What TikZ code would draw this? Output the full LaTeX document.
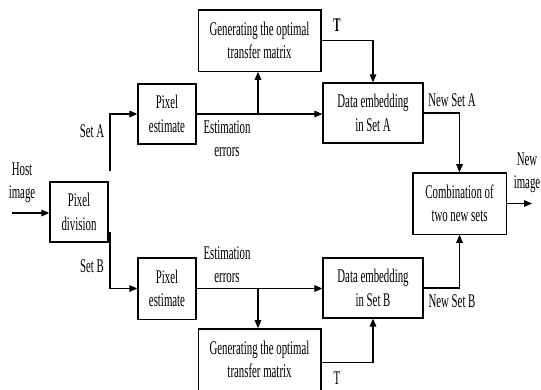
\documentclass[tikz,border=0pt]{standalone}
\usepackage{fontspec}
\setmainfont{Liberation Serif}[FakeStretch=0.56]
\usetikzlibrary{arrows.meta}
\begin{document}
\begin{tikzpicture}[x=0.75pt,y=-0.75pt,
  box/.style={draw, line width=1pt, inner sep=0pt, align=center,
    font=\fontsize{14.5}{17.5}\selectfont},
  lbl/.style={inner sep=0pt, align=center, font=\fontsize{14.5}{17}\selectfont},
  conn/.style={line width=0.8pt},
  arr/.style={conn, -{Triangle[length=6pt,width=5pt]}}]
\useasboundingbox (0,0) rectangle (541,389);
% boxes
\node[box, minimum width=92pt, minimum height=46pt] (genA) at (259.5,40.5) {Generating the optimal\\transfer matrix};
\node[box, minimum width=43.5pt, minimum height=45pt] (peA) at (167,114) {Pixel\\estimate};
\node[box, minimum width=75pt, minimum height=45pt] (deA) at (373,113) {Data embedding\\in Set A};
\node[box, minimum width=43.5pt, minimum height=45pt] (pd) at (79,212) {Pixel\\division};
\node[box, minimum width=70pt, minimum height=46pt] (comb) at (459.5,203.5) {Combination of\\two new sets};
\node[box, minimum width=43.5pt, minimum height=46pt] (peB) at (167,288.5) {Pixel\\estimate};
\node[box, minimum width=75pt, minimum height=45pt] (deB) at (373,288) {Data embedding\\in Set B};
\node[box, minimum width=92pt, minimum height=46pt] (genB) at (259.5,359.5) {Generating the optimal\\transfer matrix};
% labels
\node[lbl] (host) at (22,183) {Host\\image};
\node[lbl] (setA) at (92,131) {Set A};
\node[lbl] (setB) at (92,266) {Set B};
\node[lbl] (eeA) at (227,138.5) {Estimation\\errors};
\node[lbl] (eeB) at (227,264.5) {Estimation\\errors};
\node[lbl, font=\fontsize{14.5}{17}\selectfont\bfseries] (tA) at (337,25) {T};
\node[lbl] (tB) at (337,378) {T};
\node[lbl] (nsA) at (452,100) {New Set A};
\node[lbl] (nsB) at (452,301) {New Set B};
\node[lbl] (newimg) at (527,173) {New\\image};
% coordinates
\coordinate (hin) at (12,213);
\coordinate (sA) at (110,171);
\coordinate (sB) at (110,232);
\coordinate (brA) at (258,114);
\coordinate (brB) at (258,288.5);
\coordinate (out) at (532,203.5);
% connectors
\draw[arr] (hin) -- (hin -| pd.west);
\draw[arr] (sA) |- (peA.west);
\draw[arr] (sB) |- (peB.west);
\draw[arr] (peA.east) -- (peA.east -| deA.west);
\draw[arr] (brA) -- (brA |- genA.south);
\draw[arr] (genA.east) -| (deA.north);
\draw[arr] (deA.east) -| (comb.north);
\draw[arr] (comb.east) -- (out);
\draw[arr] (peB.east) -- (peB.east -| deB.west);
\draw[arr] (brB) -- (brB |- genB.north);
\draw[arr] ([yshift=-2.25pt]genB.east) -| (deB.south);
\draw[arr] (deB.east) -| (comb.south);
\end{tikzpicture}
\end{document}
